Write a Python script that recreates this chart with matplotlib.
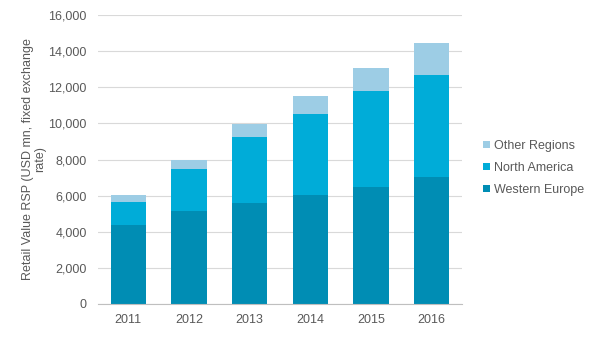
import matplotlib.pyplot as plt
import numpy as np

plt.rcParams['font.family'] = ['Liberation Sans', 'DejaVu Sans']

years = ['2011', '2012', '2013', '2014', '2015', '2016']
western_europe = [4390, 5165, 5608, 6051, 6494, 7009]
north_america = [1273, 2325, 3637, 4484, 5298, 5668]
other_regions = [371, 499, 720, 997, 1290, 1772]

c_we = '#008db4'
c_na = '#00acd8'
c_other = '#9dcde5'
grey = '#595959'

fig = plt.figure(figsize=(6, 3.41), dpi=100)
ax = fig.add_axes([98 / 600, 1 - 304 / 341, 364 / 600, 289 / 341])

x = np.arange(len(years))
w = 0.58
we = np.array(western_europe)
na = np.array(north_america)
ot = np.array(other_regions)
b1 = ax.bar(x, we, w, color=c_we, label='Western Europe', zorder=2)
b2 = ax.bar(x, na, w, bottom=we, color=c_na, label='North America', zorder=2)
b3 = ax.bar(x, ot, w, bottom=we + na, color=c_other, label='Other Regions', zorder=2)

ax.set_xlim(-0.5, 5.5)
ax.set_ylim(0, 16000)
ax.set_yticks(range(0, 16001, 2000))
ax.set_yticklabels([f'{v:,}' for v in range(0, 16001, 2000)])
ax.set_xticks(x)
ax.set_xticklabels(years)
ax.grid(axis='y', color='#d9d9d9', linewidth=0.8, zorder=0)
for s in ['top', 'right', 'left']:
    ax.spines[s].set_visible(False)
ax.spines['bottom'].set_color('#bfbfbf')
ax.tick_params(length=0, labelsize=9, colors=grey)
ax.tick_params(axis='y', pad=8)
ax.tick_params(axis='x', pad=7)

ax.set_ylabel('Retail Value RSP (USD mn, fixed exchange\nrate)', fontsize=9,
              color=grey, linespacing=0.95, multialignment='center')
ax.yaxis.set_label_coords(-0.143, 0.5)

leg = fig.legend(handles=[b3, b2, b1], loc='center left', bbox_to_anchor=(472 / 600, 1 - 168 / 341),
                 frameon=False, fontsize=9, handlelength=0.55, handleheight=0.55,
                 handletextpad=0.35, labelspacing=0.8)
for t in leg.get_texts():
    t.set_color(grey)

fig.savefig('out.png', dpi=100)
